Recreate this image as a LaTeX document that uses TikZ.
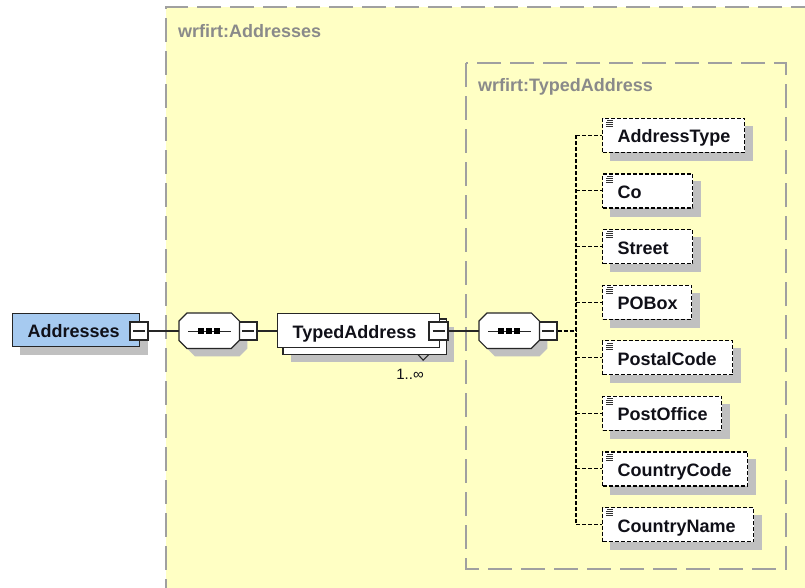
\documentclass[tikz,border=0pt]{standalone}
\usepackage{fontspec}
\setmainfont{Liberation Sans}
\usetikzlibrary{calc}
\pgfdeclarelayer{bg}
\pgfdeclarelayer{shad}
\pgfdeclarelayer{mid}
\pgfsetlayers{bg,shad,mid,main}
\definecolor{panel}{HTML}{FFFFC4}
\definecolor{panelline}{HTML}{A0A0A0}
\definecolor{paneltext}{HTML}{8A8A8A}
\definecolor{shadowgray}{HTML}{C0C0C0}
\definecolor{rootblue}{HTML}{A6CAF0}
\definecolor{inkdark}{HTML}{101018}
\newcommand{\padtext}[2]{\makebox[#1][l]{\hspace{15pt}#2}}
\begin{document}
\begin{tikzpicture}[x=1pt,y=-1pt,
  panelbox/.style={fill=panel, draw=panelline, line width=1.3pt, dash pattern=on 24pt off 9pt},
  paneltitle/.style={text=paneltext, font=\bfseries\fontsize{18}{18}\selectfont, anchor=west, inner sep=0pt},
  boxtext/.style={font=\bfseries\fontsize{18}{20}\selectfont, text=inkdark, text height=16pt, text depth=1pt, inner sep=0pt, anchor=north west},
  rootbox/.style={boxtext, draw=black!85, fill=rootblue, line width=1.2pt, minimum height=33pt},
  typebox/.style={boxtext, draw=black!85, fill=white, line width=1.2pt, minimum height=34pt},
  elembox/.style={boxtext, anchor=west, draw=black, fill=white, line width=1.2pt, dash pattern=on 4pt off 2pt, minimum height=34pt},
  minusbox/.style={draw=black!85, fill=white, line width=1.1pt, minimum width=18pt, minimum height=18pt, inner sep=0pt},
  compo/.style={draw=black!85, fill=white, line width=1.2pt},
  compoframe/.style={minimum width=60pt, minimum height=35pt, inner sep=0pt, anchor=north west},
  conn/.style={draw=black!85, line width=1.1pt},
  dconn/.style={draw=black, line width=1.1pt, dash pattern=on 4pt off 2pt},
  shadowfill/.style={fill=shadowgray},
  iconline/.style={draw=black!80, line width=0.9pt},
  mult/.style={font=\fontsize{15}{16}\selectfont, text=inkdark, inner sep=0pt}
]
\useasboundingbox (0,0) rectangle (805,587);
\clip (0,0) rectangle (805,587);

% ---------- panels ----------
\begin{pgfonlayer}{bg}
  \fill[panel] (166,7) rectangle (815,597);
  \draw[panelbox, fill=none] (815,7) -- (166,7) -- (166,597);
  \draw[panelbox] (466,63) rectangle (786,569);
\end{pgfonlayer}
\node[paneltitle] (t1) at (178,31) {wrfirt:Addresses};
\node[paneltitle] (t2) at (478,87) {wrfirt:TypedAddress};

% ---------- root element ----------
\node[rootbox] (addr) at (12,313) {\padtext{127pt}{Addresses}};
\node[minusbox] (addrm) at (139,331) {};

% ---------- sequence 1 ----------
\node[compoframe] (seq1) at (179,313) {};
\node[minusbox] (seq1m) at (248,331) {};

% ---------- TypedAddress ----------
\node[typebox] (ta) at (277,313) {\padtext{162pt}{TypedAddress}};
\node[minusbox, minimum width=19pt] (tam) at (438.5,331) {};
\node[mult] (taocc) at (410,374) {1..∞};

% ---------- sequence 2 ----------
\node[compoframe] (seq2) at (479,313) {};
\node[minusbox] (seq2m) at (548,331) {};

% ---------- child elements ----------
\coordinate (trunk) at (576,331);
\foreach \name/\txt/\w [count=\i from 0] in
  {e1/AddressType/142pt, e2/Co/90pt, e3/Street/90pt, e4/POBox/89pt,
   e5/PostalCode/130pt, e6/PostOffice/119pt, e7/CountryCode/145pt, e8/CountryName/151pt}
{
  \node[elembox] (\name) at (602,{135.3+55.6*\i}) {\padtext{\w}{\txt}};
  \draw[iconline] ($(\name.north west)+(5,3)$) -- ++(6,0);
  \draw[iconline] ($(\name.north west)+(4,5)$) -- ++(7,0);
  \draw[iconline] ($(\name.north west)+(4,7)$) -- ++(7,0);
  \draw[iconline] ($(\name.north west)+(4,9)$) -- ++(7,0);
  \begin{pgfonlayer}{shad}
    \fill[shadowfill] ($(\name.south west)+(8,8)$) rectangle ($(\name.north east)+(8,8)$);
  \end{pgfonlayer}
  \draw[dconn] (trunk |- \name.west) -- (\name.west);
}

% ---------- shadows and stacked copy ----------
\begin{pgfonlayer}{shad}
  \fill[shadowfill] ($(addr.south west)+(8,8)$) rectangle ($(addr.north east)+(8,8)$);
  \fill[shadowfill] ($(ta.south west)+(14,14)$) rectangle ($(ta.north east)+(14,14)$);
  \foreach \s in {seq1,seq2}{
    \fill[shadowfill]
      ($(\s.north west)+(16,8)$) -- ($(\s.north east)+(0,8)$) -- ($(\s.north east)+(8,16)$)
      -- ($(\s.south east)+(8,0)$) -- ($(\s.south east)+(0,8)$) -- ($(\s.south west)+(16,8)$)
      -- ($(\s.south west)+(8,0)$) -- ($(\s.north west)+(8,16)$) -- cycle;
  }
\end{pgfonlayer}
\begin{pgfonlayer}{mid}
  \draw[conn] ($(ta.south east)+(-29,-1)$) -- ($(ta.south east)+(-17,12)$) -- ($(ta.south east)+(-4,-1)$);
  \draw[typebox, fill=white] ($(ta.south west)+(6,6)$) rectangle ($(ta.north east)+(6,6)$);
\end{pgfonlayer}

% ---------- compositors ----------
\foreach \s in {seq1,seq2}{
  \draw[compo]
    ($(\s.north west)+(8,0)$) -- ($(\s.north east)+(-8,0)$) -- ($(\s.north east)+(0,8)$)
    -- ($(\s.south east)+(0,-8)$) -- ($(\s.south east)+(-8,0)$) -- ($(\s.south west)+(8,0)$)
    -- ($(\s.south west)+(0,-8)$) -- ($(\s.north west)+(0,8)$) -- cycle;
  \draw[conn] ($(\s.center)+(-21,0.5)$) -- ($(\s.center)+(22,0.5)$);
  \fill[black] ($(\s.center)+(-11,-2.5)$) rectangle ++(6,6);
  \fill[black] ($(\s.center)+(-3,-2.5)$) rectangle ++(6,6);
  \fill[black] ($(\s.center)+(5,-2.5)$) rectangle ++(6,6);
}

% ---------- minus signs ----------
\foreach \m in {addrm,seq1m,tam,seq2m}{
  \draw[conn] ($(\m.center)+(-6,0)$) -- ($(\m.center)+(6,0)$);
}

% ---------- connectors ----------
\draw[conn] (addrm.east) -- (addrm.east -| seq1.west);
\draw[conn] (seq1m.east) -- (seq1m.east -| ta.west);
\draw[conn] (tam.east) -- (tam.east -| seq2.west);
\draw[dconn] (seq2m.east) -- (trunk);
\draw[dconn] (trunk |- e1.west) -- (trunk |- e8.west);
\end{tikzpicture}
\end{document}
